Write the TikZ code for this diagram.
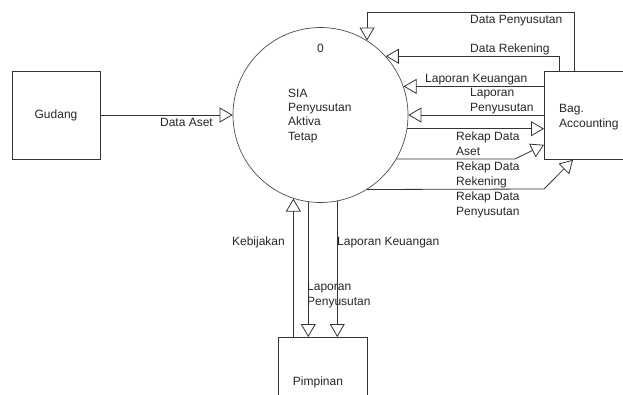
\documentclass[tikz,border=0pt]{standalone}
\usepackage{fontspec}
\setmainfont{Liberation Sans}
\usetikzlibrary{arrows.meta,calc}
\begin{document}
\begin{tikzpicture}[x=1pt,y=-1pt,
  every node/.style={font=\fontsize{12}{14.3}\selectfont, text=black!85},
  flow/.style={draw=black!80, line width=0.8pt, -{Triangle[open, fill=white, length=13pt, width=15pt]}},
  ent/.style={draw=black!80, line width=0.8pt, minimum width=88pt, minimum height=88pt, inner sep=0pt},
  lbl/.style={anchor=base west, inner sep=0pt, align=left}]
\useasboundingbox (0,0) rectangle (623,394);
% process
\node[circle, draw=black!70, line width=0.7pt, minimum size=175pt, inner sep=0pt] (p) at (320.5,115) {};
\node[inner sep=0pt] (pnum) at (320.5,48) {0};
\node[lbl] (pname) at (288,140) {SIA\\Penyusutan\\Aktiva\\Tetap};
% entities
\node[ent] (gud) at (56,115) {Gudang};
\node[ent, minimum width=90pt, anchor=north west] (bag) at (544,71) {};
\node[lbl] (bagt) at (559,127) {Bag.\\Accounting};
\node[ent, minimum width=89pt, anchor=north west] (pim) at (278,337) {};
\node[anchor=base, inner sep=0pt] (pimt) at (318,385) {Pimpinan};
% coordinates
\coordinate (c1) at (574,12);
\coordinate (c2) at (515,159);
\coordinate (c3) at (544,189);
% flows
\draw[flow] (gud.east) -- (p.180);
\draw[flow] ([xshift=30pt]bag.north west) |- (c1) -| (p.58.7);
\draw[flow] ([xshift=15pt]bag.north west) |- (p.42);
\draw[flow] (p.19.7 -| bag.west) -- (p.19.7);
\draw[flow] (p.0 -| bag.west) -- (p.0);
\draw[flow] (p.-9.5) -- (p.-9.5 -| bag.west);
\draw[flow] (p.-30.6) -- (c2) -- ([yshift=15pt]bag.south west);
\draw[flow] (p.-58.4) -- (c3) -- ([xshift=29pt]bag.south west);
\draw[flow] (p.-108.3 |- pim.north) -- (p.-108.3);
\draw[flow] (p.-98.9) -- (p.-98.9 |- pim.north);
\draw[flow] (p.-79.1) -- (p.-79.1 |- pim.north);
% labels
\node[anchor=base east, inner sep=0pt] (l1) at (213,126) {Data Aset};
\node[lbl] (l2) at (470,23) {Data Penyusutan};
\node[lbl] (l3) at (470,52) {Data Rekening};
\node[lbl] (l4) at (425,82) {Laporan Keuangan};
\node[lbl] (l5) at (470,111) {Laporan\\Penyusutan};
\node[lbl] (l6) at (456,155) {Rekap Data\\Aset};
\node[lbl] (l7) at (456,185) {Rekap Data\\Rekening};
\node[lbl] (l8) at (456,215) {Rekap Data\\Penyusutan};
\node[anchor=base east, inner sep=0pt] (l9) at (285,245) {Kebijakan};
\node[lbl] (l10) at (337,245) {Laporan Keuangan};
\node[lbl] (l11) at (307,305) {Laporan\\Penyusutan};
\end{tikzpicture}
\end{document}
